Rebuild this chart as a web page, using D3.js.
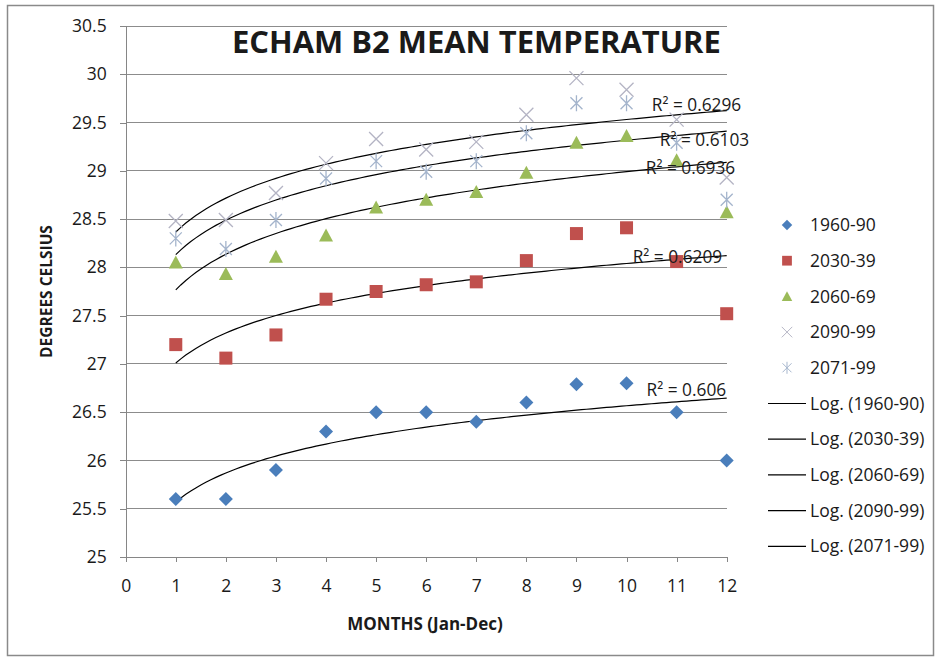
<!DOCTYPE html>
<html lang="en">
<head>
<meta charset="utf-8">
<title>ECHAM B2 Mean Temperature</title>
<script src="https://cdn.jsdelivr.net/npm/d3@7"></script>
<style>
body{
  margin: 0;
  background: #fff;
}
svg text{
  font-family: "Open Sans", sans-serif;
  fill: #1a1a1a;
}
.axis path, .axis line{
  stroke: #868686;
  shape-rendering: crispEdges;
}
.grid line{
  stroke: #8c8c8c;
  shape-rendering: crispEdges;
}
</style>
</head>
<body>
<svg id="chart" width="937" height="658"></svg>
<script>
// months 1..12
var months = [1, 2, 3, 4, 5, 6, 7, 8, 9, 10, 11, 12];
var t1960 = [25.6, 25.6, 25.9, 26.3, 26.5, 26.5, 26.4, 26.6, 26.79, 26.8, 26.5, 26.0];
var t2030 = [27.2, 27.06, 27.3, 27.67, 27.75, 27.82, 27.85, 28.07, 28.35, 28.41, 28.06, 27.52];
var t2060 = [28.05, 27.93, 28.11, 28.33, 28.62, 28.7, 28.78, 28.98, 29.29, 29.36, 29.11, 28.57];
var t2090 = [28.48, 28.49, 28.77, 29.08, 29.33, 29.22, 29.3, 29.58, 29.96, 29.84, 29.53, 28.93];
var t2071 = [28.3, 28.19, 28.49, 28.92, 29.1, 28.99, 29.1, 29.39, 29.7, 29.7, 29.29, 28.7];
var seriesNames = ['1960-90', '2030-39', '2060-69', '2090-99', '2071-99'];
var r2Labels = ['0.606', '0.6209', '0.6936', '0.6296', '0.6103'];
var xTicks = [0, 1, 2, 3, 4, 5, 6, 7, 8, 9, 10, 11, 12];
var yTicks = [25, 25.5, 26, 26.5, 27, 27.5, 28, 28.5, 29, 29.5, 30, 30.5];

var seriesData = [t1960, t2030, t2060, t2090, t2071];
var styles = [
  {shape: 'diamond', color: '#4a7ebb'},
  {shape: 'square', color: '#c0504d'},
  {shape: 'triangle', color: '#9bbb59'},
  {shape: 'x', color: '#b4b4c4'},
  {shape: 'star', color: '#a4b4cc'}
];
// where the R² labels sit (data units: right edge, vertical centre)
var r2Pos = [[11.99, 26.73], [11.91, 28.11], [12.17, 29.03], [12.29, 29.68], [12.45, 29.32]];

var svg = d3.select('svg');
var xScale = d3.scaleLinear().domain([0, 12]).range([125.7, 726.7]);
var yScale = d3.scaleLinear().domain([25, 30.5]).range([557, 26]);

// outer frame
svg.append('rect')
  .attr('x', 7.5).attr('y', 5.5)
  .attr('width', 926).attr('height', 650)
  .attr('fill', 'none')
  .attr('stroke', '#8a8a8a')
  .attr('stroke-width', 1.5);

// gridlines
svg.append('g').attr('class', 'grid')
  .selectAll('line')
  .data(yTicks.slice(1))
  .enter().append('line')
  .attr('x1', xScale(0)).attr('x2', xScale(12))
  .attr('y1', function(d) { return yScale(d); })
  .attr('y2', function(d) { return yScale(d); });

var xAxis = svg.append('g')
  .attr('class', 'axis')
  .attr('transform', 'translate(0,' + yScale(25) + ')')
  .call(d3.axisBottom(xScale).tickValues(xTicks).tickSize(5).tickPadding(18));
xAxis.selectAll('text').attr('font-size', '17.5px').attr('fill', '#1a1a1a');

var yAxis = svg.append('g')
  .attr('class', 'axis')
  .attr('transform', 'translate(' + xScale(0) + ',0)')
  .call(d3.axisLeft(yScale).tickValues(yTicks).tickSize(6).tickPadding(13)
    .tickFormat(d3.format('~g')));
yAxis.selectAll('text').attr('font-size', '17.5px').attr('fill', '#1a1a1a');

// log trend: y = a ln(x) + b
function logFit(vals) {
  var lx = months.map(function(m) { return Math.log(m); });
  var mx = d3.mean(lx), my = d3.mean(vals);
  var sxy = d3.sum(lx, function(v, i) { return (v - mx) * (vals[i] - my); });
  var sxx = d3.sum(lx, function(v) { return (v - mx) * (v - mx); });
  var a = sxy / sxx;
  return {a: a, b: my - a * mx};
}

var line = d3.line()
  .x(function(d) { return xScale(d[0]); })
  .y(function(d) { return yScale(d[1]); });

var xs = d3.range(1, 12.001, 0.1);
seriesData.forEach(function(vals) {
  var f = logFit(vals);
  svg.append('path')
    .attr('d', line(xs.map(function(x) { return [x, f.a * Math.log(x) + f.b]; })))
    .attr('fill', 'none')
    .attr('stroke', '#000')
    .attr('stroke-width', 1.2);
});

function drawMarker(sel, shape, color) {
  if (shape === 'diamond') {
    sel.append('path').attr('d', 'M0,-7L7,0L0,7L-7,0Z').attr('fill', color);
  } else if (shape === 'square') {
    sel.append('rect').attr('x', -6.5).attr('y', -6.5).attr('width', 13).attr('height', 13).attr('fill', color);
  } else if (shape === 'triangle') {
    sel.append('path').attr('d', 'M0,-7L7,6L-7,6Z').attr('fill', color);
  } else if (shape === 'x') {
    sel.append('path').attr('d', 'M-7,-7L7,7M-7,7L7,-7').attr('stroke', color).attr('stroke-width', 1.3);
  } else {
    sel.append('path').attr('d', 'M-6,-6L6,6M-6,6L6,-6M0,-8L0,8').attr('stroke', color).attr('stroke-width', 1.3);
  }
}

seriesData.forEach(function(vals, i) {
  svg.append('g')
    .selectAll('g')
    .data(vals)
    .enter().append('g')
    .attr('transform', function(d, j) { return 'translate(' + xScale(months[j]) + ',' + yScale(d) + ')'; })
    .each(function() { drawMarker(d3.select(this), styles[i].shape, styles[i].color); });
});

// R² labels
r2Labels.forEach(function(r, i) {
  svg.append('text')
    .attr('x', xScale(r2Pos[i][0]))
    .attr('y', yScale(r2Pos[i][1]))
    .attr('dy', '0.35em')
    .attr('text-anchor', 'end')
    .attr('font-size', '17.3px')
    .text('R\u00b2 = ' + r);
});

// title
var title = svg.append('text')
  .attr('x', 232)
  .attr('y', 53)
  .attr('font-size', '26px')
  .attr('font-weight', 'bold')
  .attr('fill', '#000')
  .text('ECHAM B2 MEAN TEMPERATURE');
var tw = title.node().getComputedTextLength();
title.attr('font-size', (26 * 489 / tw) + 'px');

svg.append('text')
  .attr('x', 425)
  .attr('y', 624)
  .attr('dy', '0.35em')
  .attr('text-anchor', 'middle')
  .attr('font-size', '17px')
  .attr('font-weight', 'bold')
  .text('MONTHS (Jan-Dec)');

svg.append('text')
  .attr('transform', 'translate(47,291.5) rotate(-90)')
  .attr('dy', '0.35em')
  .attr('text-anchor', 'middle')
  .attr('font-size', '15.5px')
  .attr('font-weight', 'bold')
  .text('DEGREES CELSIUS');

// legend
var legend = svg.append('g');
var rowY = function(k) { return 225 + k * 35.7; };
seriesNames.forEach(function(name, i) {
  var g = legend.append('g').attr('transform', 'translate(787,' + rowY(i) + ')');
  var m = g.append('g').attr('transform', 'scale(0.75)');
  drawMarker(m, styles[i].shape, styles[i].color);
  g.append('text').attr('x', 23).attr('dy', '0.35em').attr('font-size', '17.5px').text(name);
});
seriesNames.forEach(function(name, i) {
  var g = legend.append('g').attr('transform', 'translate(768,' + rowY(i + 5) + ')');
  g.append('line').attr('x1', 0).attr('x2', 38).attr('stroke', '#000').attr('stroke-width', 1.2);
  g.append('text').attr('x', 42).attr('dy', '0.35em').attr('font-size', '17.5px').text('Log. (' + name + ')');
});
</script>
</body>
</html>
